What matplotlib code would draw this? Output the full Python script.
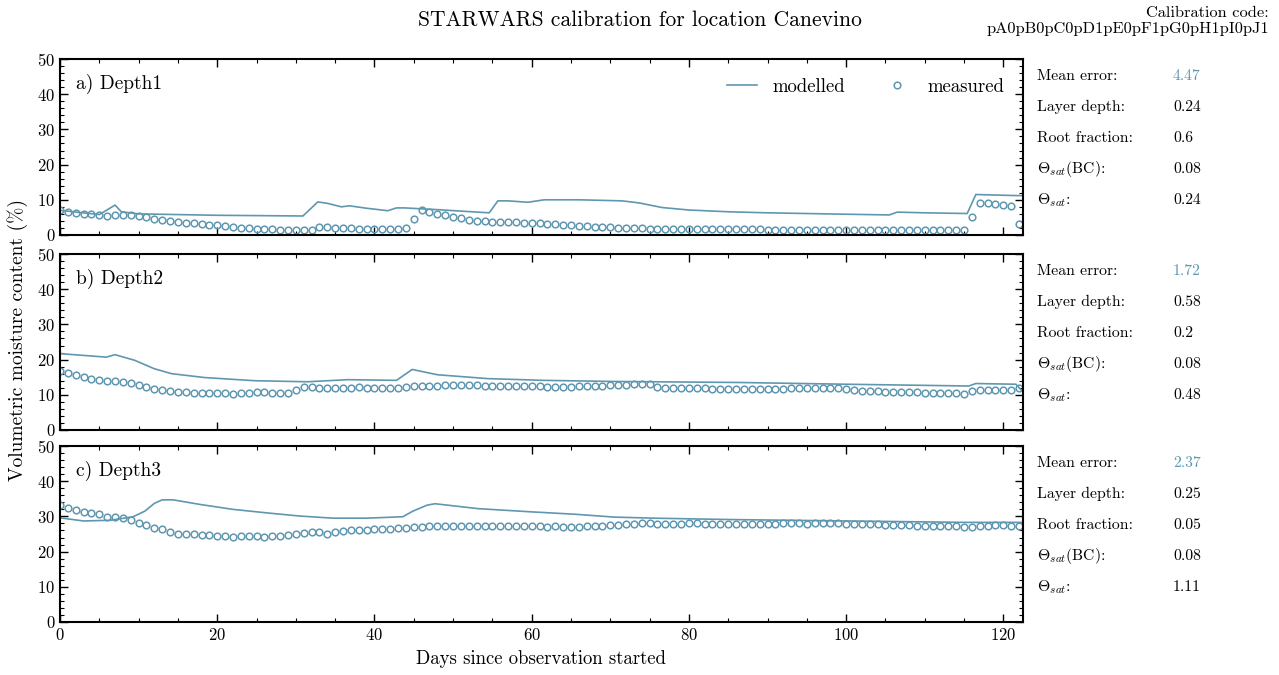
import numpy as np
import matplotlib
matplotlib.use("Agg")
import matplotlib.pyplot as plt
from matplotlib.ticker import MultipleLocator

plt.rcParams["font.family"] = "serif"
plt.rcParams["font.serif"] = ["cmr10", "DejaVu Serif"]
plt.rcParams["mathtext.fontset"] = "cm"
plt.rcParams["axes.formatter.use_mathtext"] = True
plt.rcParams["axes.unicode_minus"] = False

COLOR = "#5f97b0"

# measured values, one per day (day 0 .. 122)
meas_days = np.arange(123)
meas_1 = [7.0, 6.6, 6.3, 6.1, 5.9, 5.7, 5.5, 5.8, 5.8, 5.6,
          5.4, 5.0, 4.6, 4.3, 4.0, 3.8, 3.5, 3.3, 3.1, 2.9,
          2.7, 2.5, 2.3, 2.1, 2.0, 1.8, 1.7, 1.6, 1.5, 1.5,
          1.4, 1.4, 1.4, 2.2, 2.3, 2.1, 2.0, 1.9, 1.8, 1.7,
          1.6, 1.7, 1.6, 1.7, 2.1, 4.6, 7.0, 6.6, 6.1, 5.6,
          5.1, 4.7, 4.4, 4.1, 3.9, 3.7, 3.6, 3.7, 3.6, 3.5,
          3.4, 3.3, 3.2, 3.1, 2.9, 2.7, 2.6, 2.5, 2.4, 2.3,
          2.2, 2.1, 2.0, 1.9, 1.9, 1.8, 1.8, 1.8, 1.7, 1.7,
          1.7, 1.7, 1.7, 1.6, 1.6, 1.6, 1.6, 1.6, 1.6, 1.6,
          1.5, 1.5, 1.5, 1.5, 1.5, 1.5, 1.5, 1.5, 1.5, 1.5,
          1.5, 1.5, 1.5, 1.5, 1.5, 1.5, 1.5, 1.5, 1.5, 1.5,
          1.5, 1.5, 1.5, 1.5, 1.5, 1.5,
          5.2, 9.2, 9.0, 8.8, 8.5, 8.2, 3.0]
meas_2 = [16.9, 16.3, 15.7, 15.1, 14.6, 14.1, 13.9, 13.9, 13.6, 13.4,
          12.7, 12.1, 11.6, 11.3, 11.0, 10.8, 10.7, 10.6, 10.6, 10.5,
          10.4, 10.4, 10.3, 10.5, 10.6, 10.7, 10.7, 10.6, 10.6, 10.6,
          11.5, 12.2, 12.1, 12.0, 11.9, 12.0, 12.0, 12.0, 12.1, 12.0,
          12.0, 12.0, 11.9, 11.9, 12.1, 12.5, 12.6, 12.6, 12.6, 12.7,
          12.7, 12.7, 12.7, 12.7, 12.6, 12.6, 12.6, 12.6, 12.6, 12.6,
          12.6, 12.6, 12.3, 12.1, 12.2, 12.3, 12.4, 12.4, 12.5, 12.6,
          12.7, 12.8, 12.9, 13.0, 13.1, 13.2, 12.1, 12.0, 11.9, 11.9,
          11.8, 11.8, 11.8, 11.7, 11.7, 11.7, 11.7, 11.6, 11.6, 11.6,
          11.6, 11.6, 11.6, 11.9, 12.0, 12.0, 12.0, 11.9, 11.9, 11.8,
          11.6, 11.4, 11.2, 11.1, 11.0, 10.9, 10.9, 10.8, 10.7, 10.7,
          10.6, 10.6, 10.5, 10.5, 10.4, 10.3,
          11.0, 11.3, 11.4, 11.5, 11.5, 11.4, 11.8]
meas_3 = [33.1, 32.3, 31.7, 31.2, 30.9, 30.6, 29.8, 29.7, 29.6, 28.9,
          28.2, 27.5, 26.8, 26.3, 25.6, 25.1, 25.0, 24.9, 24.8, 24.6,
          24.4, 24.4, 24.2, 24.4, 24.4, 24.4, 24.2, 24.4, 24.4, 24.6,
          25.1, 25.3, 25.5, 25.6, 25.1, 25.7, 25.8, 26.0, 26.0, 26.1,
          26.3, 26.3, 26.3, 26.7, 26.8, 26.9, 27.0, 27.2, 27.3, 27.3,
          27.4, 27.4, 27.3, 27.3, 27.2, 27.3, 27.3, 27.2, 27.2, 27.3,
          27.2, 27.2, 27.1, 27.2, 27.1, 27.0, 27.1, 27.2, 27.3, 27.4,
          27.5, 27.6, 27.7, 27.8, 28.0, 28.1, 27.9, 27.8, 27.8, 27.9,
          28.0, 28.0, 27.9, 27.9, 27.8, 27.8, 27.8, 27.9, 27.9, 27.8,
          27.8, 27.9, 28.0, 28.0, 28.0, 27.9, 28.1, 28.1, 28.0, 28.0,
          27.9, 27.8, 27.8, 27.7, 27.7, 27.6, 27.6, 27.5, 27.5, 27.4,
          27.4, 27.3, 27.3, 27.2, 27.2, 27.1, 27.1, 27.3, 27.4, 27.5,
          27.5, 27.4, 27.4]

# modelled values at breakpoints
mod_days_1 = [0, 5, 7, 7.8, 10, 20, 30.9, 32.8, 34, 35.8, 36.8, 39, 41.7, 42.8,
              43.8, 48, 54.6, 55.7, 57, 59.5, 61.6, 66, 71.5, 73.7, 76.6, 80,
              85, 90, 95, 100, 105.5, 106.5, 110, 115.4, 116.5, 121.6, 122.5]
mod_1 = [7.0, 5.8, 8.5, 6.6, 6.0, 5.6, 5.4, 9.4, 9.0, 8.0, 8.3, 7.6, 6.9, 7.7,
         7.7, 7.2, 6.3, 9.7, 9.7, 9.3, 10.0, 10.0, 9.7, 9.1, 7.8, 7.1,
         6.6, 6.3, 6.1, 5.9, 5.7, 6.5, 6.3, 6.1, 11.5, 11.2, 11.2]
mod_days_2 = [0, 5.9, 7, 9.5, 12, 14.2, 18.4, 24.8, 31.5, 33.2, 36.6, 42.8, 44.8,
              48, 54.4, 61.6, 70, 86.4, 100, 115.6, 116.5, 121.6, 122.5]
mod_2 = [21.7, 20.7, 21.4, 19.8, 17.4, 16.0, 14.9, 14.0, 13.7, 13.9, 14.3, 14.1, 17.2,
         15.7, 14.6, 14.1, 13.8, 13.5, 13.0, 12.5, 13.2, 13.0, 10.8]
mod_days_3 = [0, 3, 6.4, 9.3, 10.8, 12, 13, 14.4, 17.8, 22, 26.3, 30.5, 34.7, 39,
              43.6, 44.9, 46.7, 47.7, 53.2, 59.9, 65.6, 70.5, 75.5, 85.4, 100.3,
              115.2, 122.5]
mod_3 = [29.6, 28.7, 28.9, 29.9, 31.5, 33.7, 34.7, 34.7, 33.4, 32.0, 31.0, 30.1, 29.5,
         29.5, 29.9, 31.5, 33.2, 33.6, 32.2, 31.3, 30.6, 29.8, 29.5, 29.1, 28.7,
         28.3, 28.3]

panel_names = ["a) Depth1", "b) Depth2", "c) Depth3"]
mean_errors = ["4.47", "1.72", "2.37"]
layer_depths = ["0.24", "0.58", "0.25"]
root_fractions = ["0.6", "0.2", "0.05"]
theta_bc = ["0.08", "0.08", "0.08"]
theta_sat = ["0.24", "0.48", "1.11"]

measured = [meas_1, meas_2, meas_3]
mod_days = [mod_days_1, mod_days_2, mod_days_3]
modelled = [mod_1, mod_2, mod_3]

fig = plt.figure(figsize=(12.79, 6.75), dpi=100)
left, width, height = 60 / 1279, 963 / 1279, 176 / 675
bottoms = [1 - 235 / 675, 1 - 430 / 675, 1 - 622 / 675]

for i in range(3):
    ax = fig.add_axes([left, bottoms[i], width, height])
    ax.plot(mod_days[i], modelled[i], color=COLOR, lw=1.2, label="modelled")
    ax.plot(meas_days, measured[i], ls="none", marker="o", ms=4.8, mfc="none",
            mec=COLOR, mew=1.1, label="measured")
    ax.set_xlim(0, 122.5)
    ax.set_ylim(0, 50)
    ax.xaxis.set_major_locator(MultipleLocator(20))
    ax.xaxis.set_minor_locator(MultipleLocator(5))
    ax.yaxis.set_major_locator(MultipleLocator(10))
    ax.yaxis.set_minor_locator(MultipleLocator(2))
    ax.tick_params(which="both", direction="in", top=True, right=True, labelsize=12)
    ax.tick_params(which="major", length=6, width=1)
    ax.tick_params(which="minor", length=3, width=0.8)
    for s in ax.spines.values():
        s.set_linewidth(1.5)
    if i < 2:
        ax.tick_params(labelbottom=False)
    ax.text(0.017, 0.83, panel_names[i], transform=ax.transAxes, fontsize=14)
    if i == 0:
        ax.legend(loc="upper right", ncol=2, frameon=False, fontsize=13.5,
                  columnspacing=2.0, handlelength=1.6, handletextpad=0.8,
                  borderaxespad=0.6)

    labels = ["Mean error:", "Layer depth:", "Root fraction:",
              r"$\Theta_{sat}$(BC):", r"$\Theta_{sat}$:"]
    values = [mean_errors[i], layer_depths[i], root_fractions[i], theta_bc[i], theta_sat[i]]
    for k in range(5):
        y = 1 - (17 + 31 * k) / 176
        ax.text(1.0145, y, labels[k], transform=ax.transAxes, fontsize=11.3,
                va="center", ha="left")
        ax.text(1.1558, y, values[k], transform=ax.transAxes, fontsize=11.3,
                va="center", ha="left", color=COLOR if k == 0 else "black")
    if i == 2:
        ax.set_xlabel("Days since observation started", fontsize=13.5, labelpad=5)

fig.text(0.5, 0.97, "STARWARS calibration for location Canevino", ha="center",
         va="center", fontsize=15.5)
fig.text(0.992, 0.99, "Calibration code:\npA0pB0pC0pD1pE0pF1pG0pH1pI0pJ1",
         ha="right", va="top", fontsize=11.8, linespacing=1.1)
fig.text(0.014, 1 - 340 / 675, "Volumetric moisture content (%)",
         rotation=90, ha="center", va="center", fontsize=14)

fig.savefig("out.png", dpi=100)
